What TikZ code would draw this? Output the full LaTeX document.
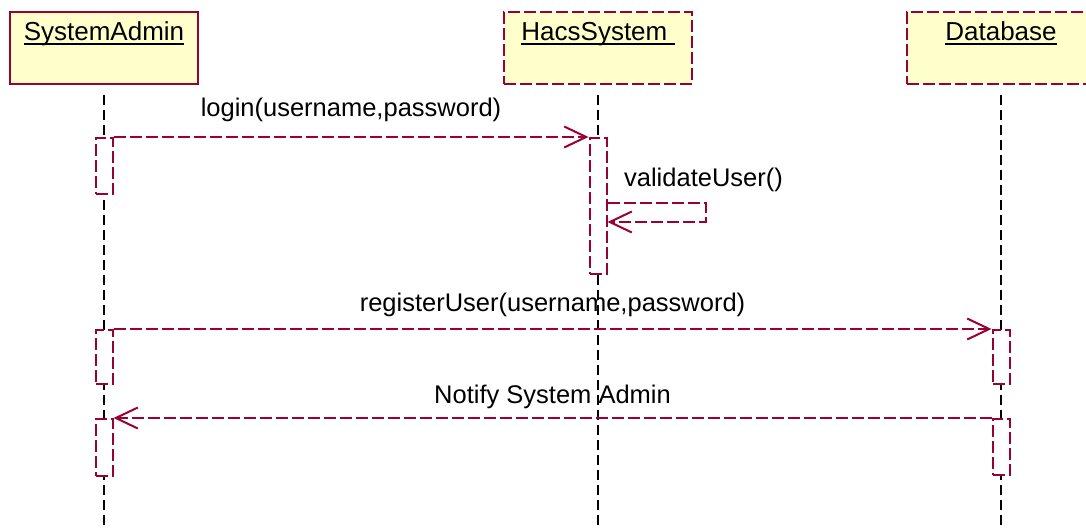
\documentclass[tikz,border=0pt]{standalone}
\usepackage{fontspec}
\setmainfont{Liberation Sans}
\usepackage{tikz}
\usetikzlibrary{arrows.meta,calc,positioning}
\definecolor{umlred}{RGB}{153,0,51}
\definecolor{umlfill}{RGB}{255,255,204}
% object name, underlined close to the baseline
\newcommand{\objname}[1]{\setbox0\hbox{#1}\rlap{\vrule height -2.5pt depth 4.3pt width \wd0}\box0}

\begin{document}
\begin{tikzpicture}[
    x=1pt, y=-1pt,
    font=\fontsize{25.5}{30}\selectfont,
    obj/.style={draw=umlred, line width=2pt, fill=umlfill, anchor=north,
                font=\fontsize{26}{30}\selectfont,
                minimum width=188pt, inner ysep=0pt, text height=29pt, text depth=43pt},
    objdash/.style={obj, dash pattern=on 12pt off 4pt},
    lifeline/.style={draw=black, line width=2pt, dash pattern=on 10pt off 5pt},
    act/.style={draw=umlred, fill=white, line width=2pt, dash pattern=on 12pt off 4pt,
                minimum width=17pt, inner sep=0pt, anchor=north},
    msg/.style={umlred, line width=2pt, dash pattern=on 12pt off 4pt,
                -{Straight Barb[length=22pt, width=21pt]}},
    msglabel/.style={anchor=base, text=black}
]
\useasboundingbox (0,0) rectangle (1086,529);

% participants
\node[obj] (admin) at (104,11) {\objname{SystemAdmin}};
\node[objdash] (hacs) at (598,11) {\objname{HacsSystem\ }};
\node[objdash] (db) at (1001,11) {\objname{Database}};
\coordinate (bottom) at (0,529);

% lifelines
\draw[lifeline] ([yshift=-10pt]admin.south) -- (admin |- bottom);
\draw[lifeline] ([yshift=-10pt]hacs.south) -- (hacs |- bottom);
\draw[lifeline] ([yshift=-10pt]db.south) -- (db |- bottom);

% activations
\node[act, minimum height=56pt] (a1) at (104,137) {};
\node[act, minimum height=136pt] (h1) at (598,137) {};
\node[act, minimum height=54pt] (a2) at (104,329) {};
\node[act, minimum height=54pt] (d1) at (1001,329) {};
\node[act, minimum height=57pt] (a3) at (104,418) {};
\node[act, minimum height=56pt] (d2) at (1001,418) {};

% messages
\draw[msg] (a1.north east) -- (h1.north west)
    node[msglabel, midway, yshift=20pt] {login(username,password)};
\draw[msg] ([yshift=-66pt]h1.north east) -- ++(98,0)
    node[msglabel, yshift=16pt, xshift=-2pt] {validateUser()}
    |- ([yshift=-85pt]h1.north east);
\draw[msg] (a2.north east) -- (d1.north west)
    node[msglabel, midway, yshift=18pt] {registerUser(username,password)};
\draw[msg] (d2.north west) -- (a3.north east)
    node[msglabel, midway, yshift=15pt] {Notify System Admin};
\end{tikzpicture}
\end{document}
